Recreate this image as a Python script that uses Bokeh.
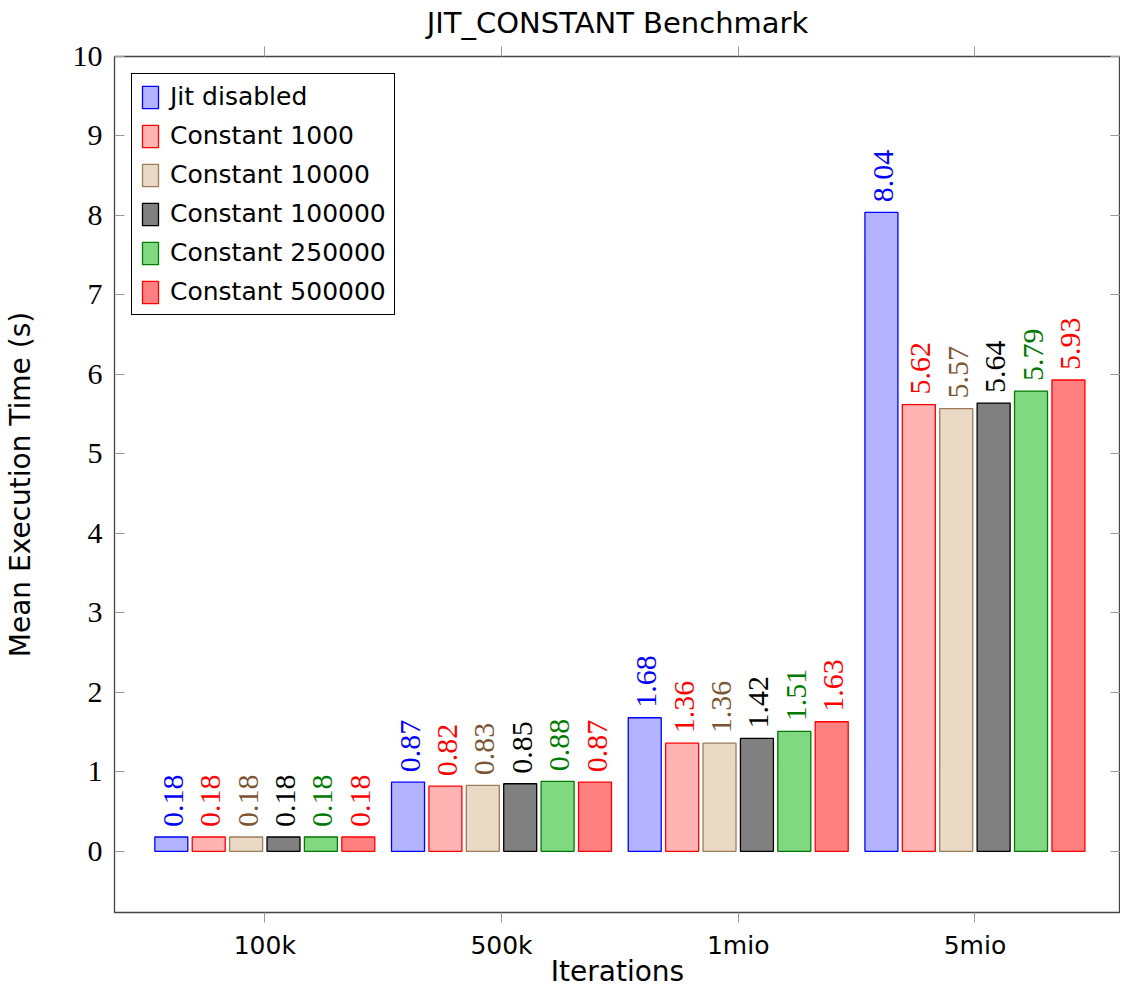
import numpy as np
from bokeh.plotting import figure
from bokeh.models import (ColumnDataSource, Range1d, FixedTicker, LinearAxis,
                          Legend, LegendItem)
from bokeh.embed import file_html
from bokeh.resources import INLINE
from bokeh.core.properties import value

# ---- data ----
categories = ["100k", "500k", "1mio", "5mio"]
series_names = ["Jit disabled", "Constant 1000", "Constant 10000",
                "Constant 100000", "Constant 250000", "Constant 500000"]
jit_disabled = [0.18, 0.87, 1.68, 8.04]
constant_1000 = [0.18, 0.82, 1.36, 5.62]
constant_10000 = [0.18, 0.83, 1.36, 5.57]
constant_100000 = [0.18, 0.85, 1.42, 5.64]
constant_250000 = [0.18, 0.88, 1.51, 5.79]
constant_500000 = [0.18, 0.87, 1.63, 5.93]
y_ticks = [0, 1, 2, 3, 4, 5, 6, 7, 8, 9, 10]

series_values = [jit_disabled, constant_1000, constant_10000,
                 constant_100000, constant_250000, constant_500000]

# ---- styles ----
fill_colors = ["#b3b3ff", "#ffb3b3", "#e9d9c5", "#808080", "#80d880", "#ff8080"]
line_colors = ["#0000ff", "#ff0000", "#9c7c5c", "#000000", "#007a00", "#ff0000"]
label_colors = ["#0000ff", "#ff0000", "#7a5634", "#000000", "#007a00", "#ff0000"]

SANS = "DejaVu Sans"
SERIF = "Liberation Serif"

p = figure(frame_width=1006, frame_height=856,
           x_range=Range1d(-0.635, 3.615), y_range=Range1d(-0.77, 10.0),
           output_backend="svg", toolbar_location=None,
           title="JIT_CONSTANT Benchmark",
           min_border=0, min_border_left=107, min_border_top=49)

p.title.align = "center"
p.title.vertical_align = "top"
p.title.text_font = SANS
p.title.text_font_size = "29px"
p.title.text_font_style = "normal"
p.title.text_color = "black"
p.title.standoff = 10

p.outline_line_color = "#444444"
p.outline_line_width = 1.3
p.xgrid.visible = False
p.ygrid.visible = False

# bottom x axis
xa = p.xaxis[0]
xa.ticker = FixedTicker(ticks=list(range(len(categories))))
xa.major_label_overrides = {i: c for i, c in enumerate(categories)}
xa.major_tick_out = 10
xa.major_tick_in = 0
xa.minor_tick_out = 0
xa.minor_tick_in = 0
xa.major_tick_line_color = "#999999"
xa.axis_line_color = None
xa.major_label_text_font = SANS
xa.major_label_text_font_size = "25px"
xa.major_label_text_color = "black"
xa.major_label_standoff = 8
xa.axis_label = "Iterations"
xa.axis_label_text_font = SANS
xa.axis_label_text_font_size = "28px"
xa.axis_label_text_font_style = "normal"
xa.axis_label_text_color = "black"
xa.axis_label_standoff = -8

# left y axis
ya = p.yaxis[0]
ya.ticker = FixedTicker(ticks=y_ticks)
ya.major_tick_in = 10
ya.major_tick_out = 0
ya.minor_tick_in = 0
ya.minor_tick_out = 0
ya.major_tick_line_color = "#999999"
ya.axis_line_color = None
ya.major_label_text_font = SERIF
ya.major_label_text_font_size = "30px"
ya.major_label_text_color = "black"
ya.major_label_standoff = 12
ya.axis_label = "Mean Execution Time (s)"
ya.axis_label_text_font = SANS
ya.axis_label_text_font_size = "28px"
ya.axis_label_text_font_style = "normal"
ya.axis_label_text_color = "black"
ya.axis_label_standoff = 33

# top axis (ticks only)
top = LinearAxis(ticker=FixedTicker(ticks=list(range(len(categories)))),
                 major_tick_out=10, major_tick_in=0, minor_tick_out=0, minor_tick_in=0,
                 major_tick_line_color="#999999", axis_line_color=None,
                 major_label_text_font_size="1px", major_label_text_color=None,
                 major_label_standoff=0)
p.add_layout(top, "above")

# right axis (ticks only)
right = LinearAxis(ticker=FixedTicker(ticks=y_ticks),
                   major_tick_in=10, major_tick_out=0, minor_tick_out=0, minor_tick_in=0,
                   major_tick_line_color="#999999", axis_line_color=None,
                   major_label_text_font_size="1px", major_label_text_color=None,
                   major_label_standoff=0)
p.add_layout(right, "right")

n = len(series_names)
pitch = 0.158
bar_w = 0.1394
x_idx = np.arange(len(categories))
items = []
for i, (name, vals) in enumerate(zip(series_names, series_values)):
    off = (i - (n - 1) / 2) * pitch
    src = ColumnDataSource(dict(x=x_idx + off, top=vals,
                                label=[f"{v:.2f}" for v in vals]))
    r = p.vbar(x="x", top="top", bottom=0, width=bar_w, source=src,
               fill_color=fill_colors[i], line_color=line_colors[i], line_width=1.3)
    p.text(x="x", y="top", text="label", source=src, angle=np.pi / 2,
           text_align="left", text_baseline="middle", y_offset=-10, x_offset=2,
           text_font=value(SERIF), text_font_size="30px", text_color=label_colors[i])
    items.append(LegendItem(label=name, renderers=[r]))

legend = Legend(items=items, location="top_left", margin=17,
                border_line_color="black", border_line_width=1, border_line_alpha=1,
                background_fill_color="white", background_fill_alpha=1,
                padding=8, spacing=10, glyph_width=20, glyph_height=28,
                label_height=28, label_standoff=10,
                label_text_font=SANS, label_text_font_size="25px",
                label_text_color="black")
p.add_layout(legend)

open("out.html", "w").write(file_html(p, INLINE))
